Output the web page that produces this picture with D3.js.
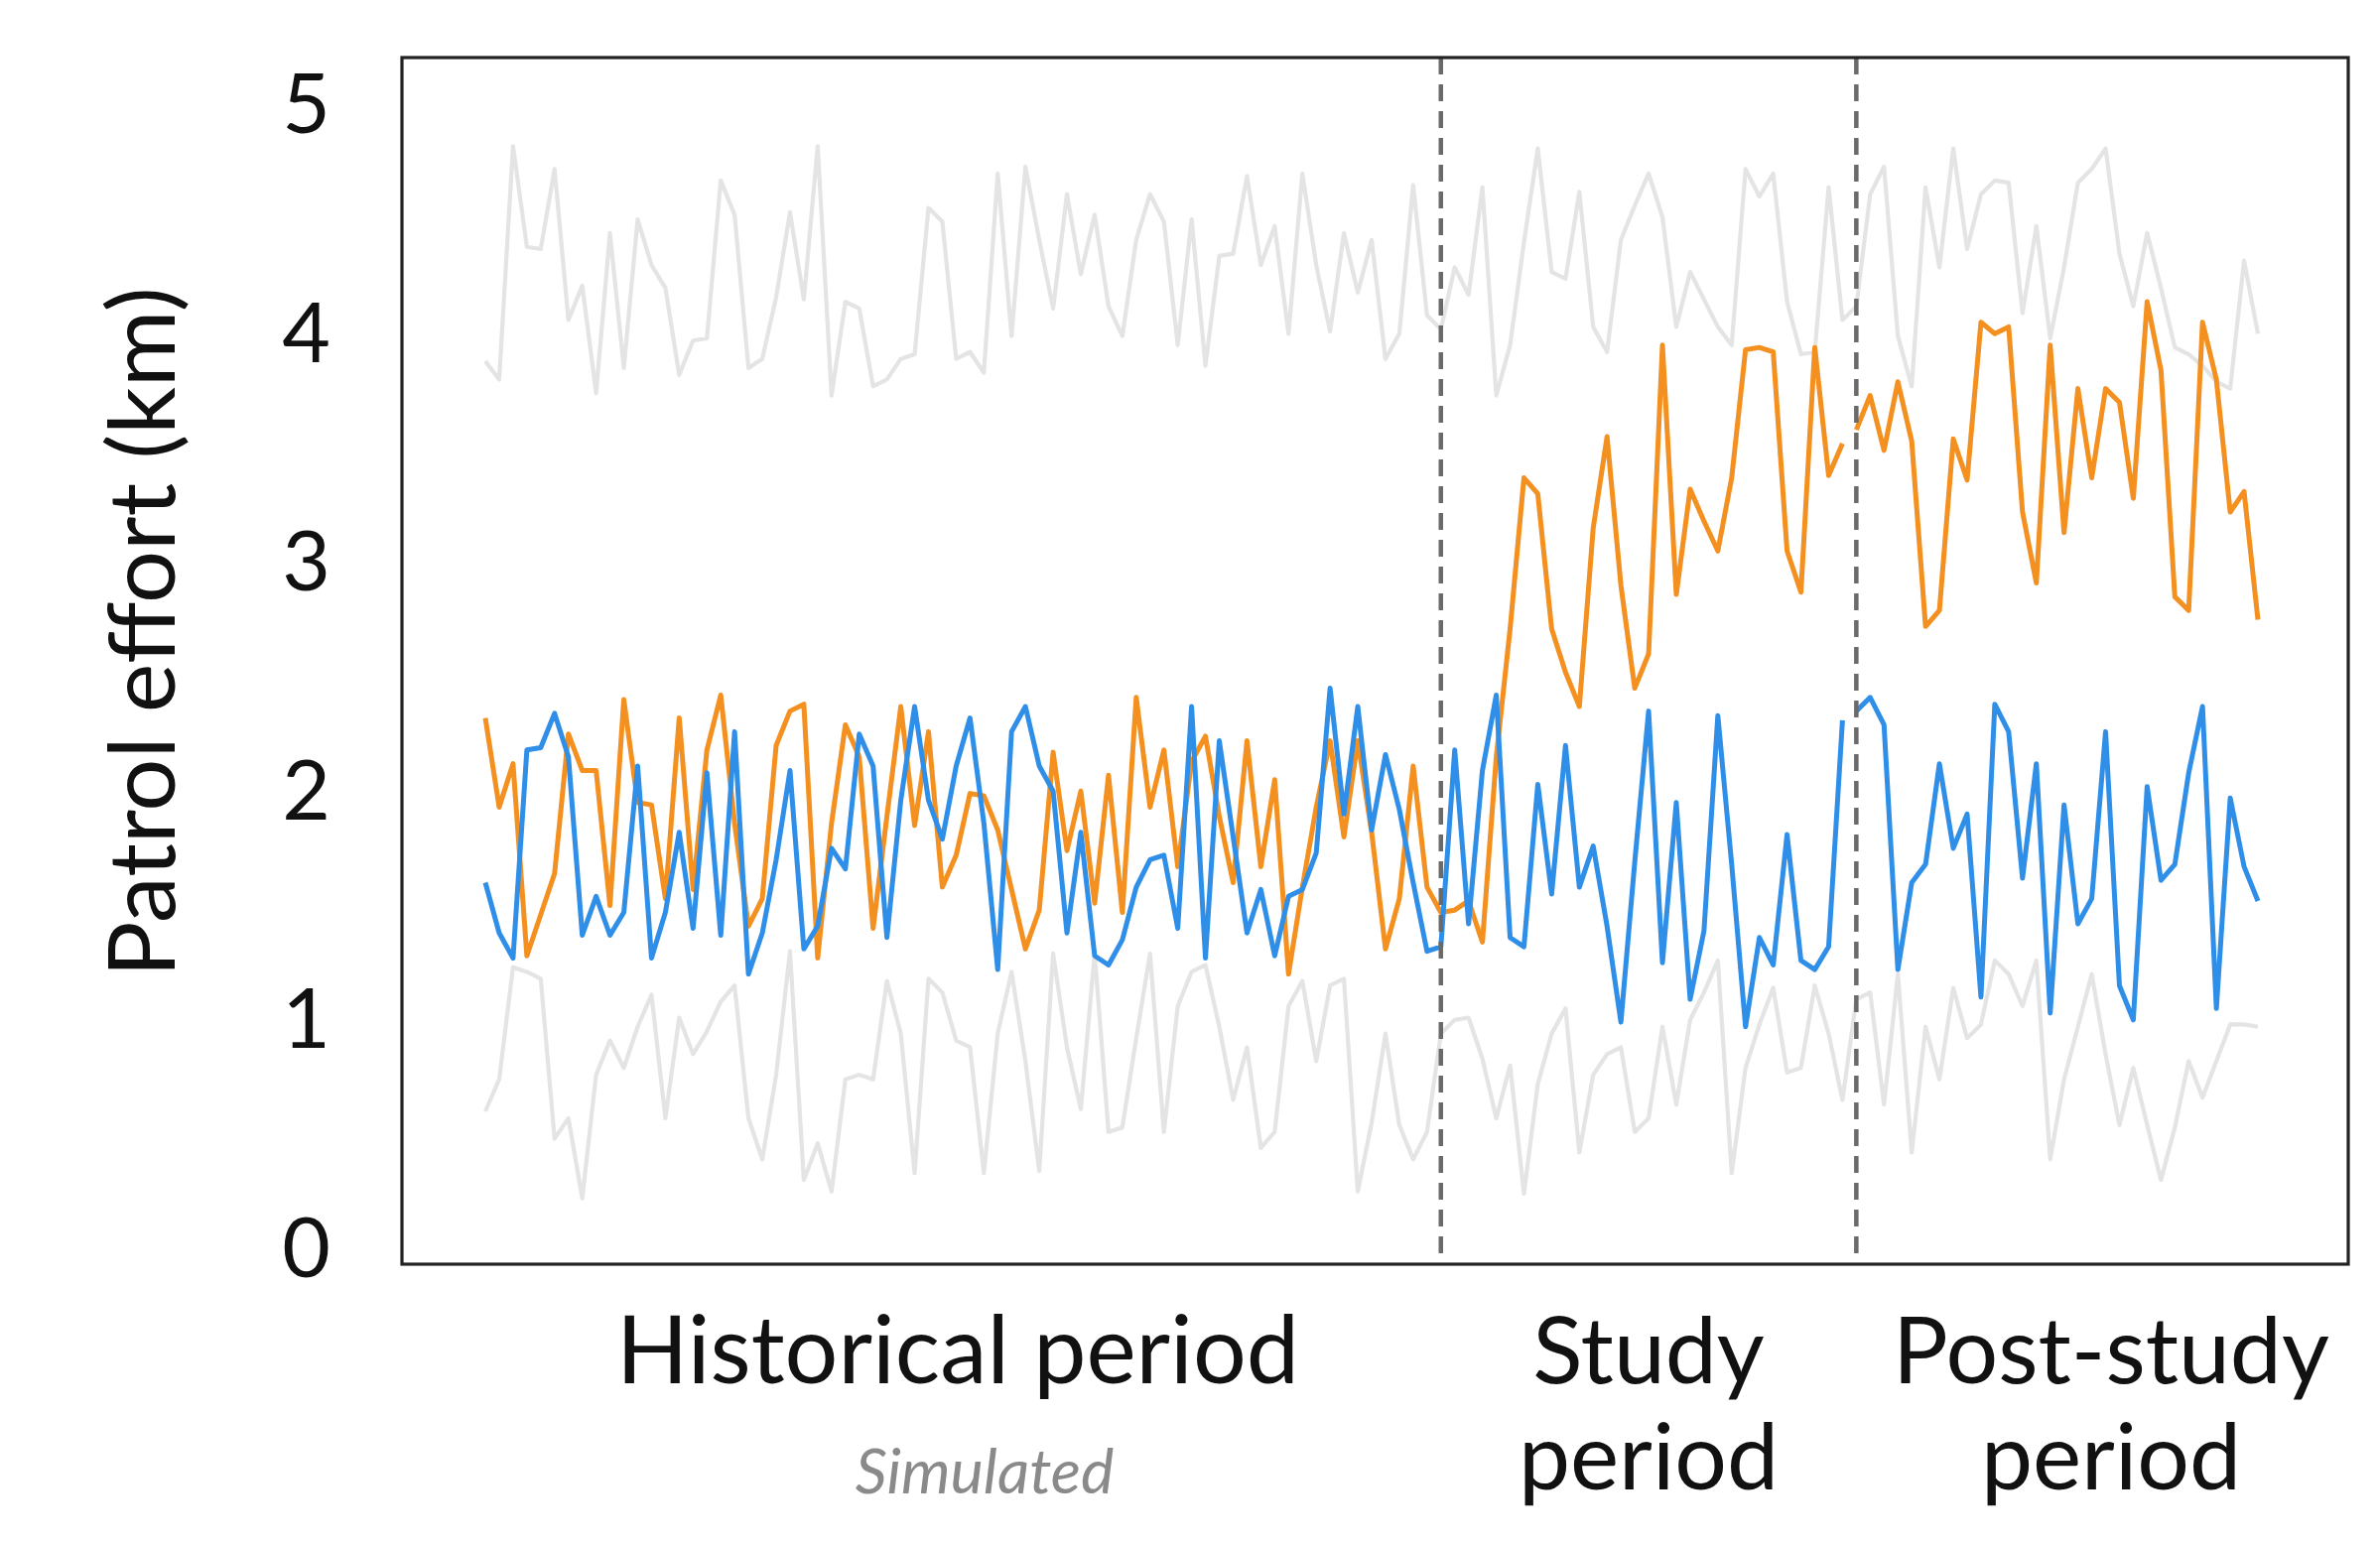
<!DOCTYPE html>
<html><head><meta charset="utf-8">
<script src="https://cdn.jsdelivr.net/npm/d3@7"></script>
<style>html,body{margin:0;padding:0;background:#fff;} svg{display:block}</style>
</head><body>
<svg id="chart" width="2398" height="1555"></svg>
<script>
// ---------- data ----------
const orangeValues = [2.31,1.92,2.11,1.27,1.45,1.63,2.24,2.08,2.08,1.49,2.39,1.94,1.93,1.52,2.31,1.56,2.17,2.41,1.85,1.40,
1.52,2.19,2.34,2.37,1.26,1.85,2.28,2.14,1.39,1.88,2.36,1.84,2.25,1.57,1.71,1.98,1.97,1.82,1.56,1.30,
1.47,2.16,1.73,1.99,1.50,2.06,1.46,2.40,1.92,2.17,1.66,2.12,2.23,1.88,1.59,2.21,1.66,2.04,1.19,1.57,
1.92,2.21,1.79,2.21,1.81,1.30,1.52,2.10,1.57,1.46,1.47,1.51,1.33,2.14,2.70,3.36,3.29,2.70,2.51,2.36,
3.14,3.54,2.89,2.44,2.59,3.94,2.85,3.31,3.17,3.04,3.36,3.92,3.93,3.91,3.04,2.86,3.93,3.37,3.51,
3.57,3.72,3.48,3.78,3.52,2.71,2.78,3.53,3.35,4.04,3.99,4.02,3.21,2.90,3.94,3.12,3.75,3.36,3.75,3.69,
3.27,4.13,3.83,2.84,2.78,4.04,3.79,3.21,3.30,2.74];

const blueValues = [1.59,1.37,1.26,2.17,2.18,2.33,2.14,1.36,1.53,1.36,1.46,2.10,1.26,1.46,1.81,1.39,2.07,1.36,2.25,1.19,
1.37,1.69,2.08,1.30,1.40,1.74,1.65,2.24,2.10,1.35,1.95,2.36,1.95,1.78,2.10,2.31,1.85,1.21,2.25,2.36,
2.10,1.99,1.37,1.81,1.27,1.23,1.34,1.57,1.69,1.71,1.39,2.36,1.26,2.21,1.79,1.37,1.56,1.27,1.53,1.56,
1.72,2.44,1.89,2.36,1.82,2.15,1.91,1.59,1.29,1.31,2.17,1.41,2.08,2.41,1.35,1.31,2.02,1.54,2.19,1.57,
1.75,1.40,0.98,1.68,2.34,1.24,1.94,1.08,1.38,2.32,1.67,0.96,1.35,1.23,1.80,1.25,1.21,1.31,2.30,
2.34,2.40,2.28,1.21,1.59,1.67,2.11,1.74,1.89,1.09,2.37,2.25,1.61,2.11,1.02,1.93,1.41,1.52,2.25,1.14,
0.99,2.01,1.60,1.67,2.07,2.36,1.04,1.96,1.66,1.51];

const grayUpperValues = [3.87,3.79,4.81,4.37,4.36,4.71,4.05,4.20,3.73,4.43,3.84,4.49,4.29,4.19,3.81,3.96,3.97,4.66,4.51,3.84,
3.88,4.15,4.52,4.14,4.81,3.72,4.13,4.10,3.76,3.79,3.88,3.90,4.54,4.48,3.88,3.91,3.82,4.69,3.98,4.72,
4.40,4.10,4.60,4.25,4.51,4.11,3.98,4.40,4.60,4.48,3.94,4.49,3.85,4.33,4.34,4.68,4.29,4.46,3.99,4.69,
4.29,4.00,4.43,4.17,4.40,3.88,3.99,4.64,4.07,4.01,4.28,4.16,4.63,3.72,3.94,4.39,4.80,4.26,4.23,4.61,
4.02,3.91,4.40,4.55,4.69,4.50,4.02,4.26,4.14,4.02,3.94,4.71,4.59,4.69,4.13,3.90,3.91,4.63,4.05,
4.11,4.60,4.72,3.98,3.76,4.63,4.28,4.80,4.36,4.60,4.66,4.65,4.08,4.46,3.97,4.28,4.65,4.71,4.80,4.34,
4.11,4.43,4.19,3.93,3.90,3.85,3.78,3.75,4.31,3.99];

const grayLowerValues = [0.59,0.73,1.22,1.20,1.17,0.47,0.56,0.21,0.75,0.90,0.78,0.96,1.10,0.56,1.00,0.84,0.94,1.07,1.14,0.56,
0.38,0.75,1.29,0.29,0.45,0.24,0.73,0.75,0.73,1.16,0.93,0.32,1.17,1.11,0.90,0.87,0.32,0.93,1.20,0.81,
0.33,1.28,0.87,0.60,1.28,0.50,0.52,0.91,1.28,0.50,1.05,1.20,1.23,0.96,0.64,0.87,0.43,0.50,1.05,1.16,
0.81,1.14,1.17,0.24,0.54,0.93,0.53,0.38,0.50,0.93,0.99,1.00,0.82,0.56,0.79,0.23,0.71,0.93,1.04,0.41,
0.75,0.84,0.87,0.50,0.56,0.96,0.62,0.99,1.11,1.25,0.32,0.78,0.97,1.13,0.76,0.78,1.14,0.93,0.64,
1.08,1.11,0.62,1.19,0.41,0.96,0.73,1.13,0.91,0.97,1.25,1.19,1.05,1.25,0.38,0.73,0.96,1.19,0.84,0.53,
0.78,0.53,0.29,0.52,0.81,0.65,0.81,0.97,0.97,0.96];

const periodStarts = [0, 69, 99];          // first index of each period
const periodLabels = [["Historical period"], ["Study", "period"], ["Post-study", "period"]];
const periodSubLabels = ["Simulated", "", ""];
const tickValues = [0, 1, 2, 3, 4, 5];
const yTitle = "Patrol effort (km)";

// ---------- layout ----------
const svg = d3.select("#chart");
const frame = {left: 405, right: 2366, top: 58, bottom: 1274};
const n = orangeValues.length;
const x = d3.scaleLinear().domain([0, n - 1]).range([489, 2275]);
const y = d3.scaleLinear().domain([0, 5]).range([1256, 103.5]);
const FONT = "Lato, 'Noto Sans', sans-serif";

const line = d3.line().x(d => x(d[0])).y(d => y(d[1]));
const pts = (arr, a, b) => d3.range(a, b).map(i => [i, arr[i]]);

// gray envelopes
[grayUpperValues, grayLowerValues].forEach(arr => {
  svg.append("path").attr("d", line(pts(arr, 0, n)))
    .attr("fill", "none").attr("stroke", "#e4e4e4").attr("stroke-width", 4.2)
    .attr("stroke-linejoin", "round");
});

// coloured series: gap between study and post-study
const segs = [[0, periodStarts[2]], [periodStarts[2], n]];
[[orangeValues, "#f39020"], [blueValues, "#2f8fe8"]].forEach(([arr, col]) => {
  segs.forEach(([a, b]) => {
    svg.append("path").attr("d", line(pts(arr, a, b)))
      .attr("fill", "none").attr("stroke", col).attr("stroke-width", 5)
      .attr("stroke-linejoin", "round");
  });
});

// dashed separators
periodStarts.slice(1).forEach(s => {
  svg.append("line").attr("x1", x(s)).attr("x2", x(s))
    .attr("y1", frame.top).attr("y2", frame.bottom)
    .attr("stroke", "#6a6a6a").attr("stroke-width", 4.5)
    .attr("stroke-dasharray", "17,10");
});

// frame
svg.append("rect").attr("x", frame.left).attr("y", frame.top)
  .attr("width", frame.right - frame.left).attr("height", frame.bottom - frame.top)
  .attr("fill", "none").attr("stroke", "#222").attr("stroke-width", 3.2);

// y axis labels
const yAxis = d3.axisLeft(y).tickValues(tickValues).tickSize(0).tickPadding(72).tickFormat(d3.format("d"));
const ga = svg.append("g").attr("transform", `translate(${frame.left},0)`).call(yAxis);
ga.select(".domain").remove();
ga.selectAll("text").attr("font-family", FONT).attr("font-size", 84).attr("fill", "#111").attr("dy", "0.36em");

// y title
svg.append("text").attr("transform", "translate(176,637) rotate(-90)")
  .attr("text-anchor", "middle").attr("font-family", FONT).attr("font-size", 94).attr("fill", "#111")
  .text(yTitle);

// period labels
const labelCx = [965, 1661, 2127];
periodLabels.forEach((lines, k) => {
  lines.forEach((t, j) => {
    svg.append("text").attr("x", labelCx[k]).attr("y", 1394 + j * 107)
      .attr("text-anchor", "middle").attr("font-family", FONT).attr("font-size", k === 0 ? 95 : 93)
      .attr("fill", "#111").text(t);
  });
  if (periodSubLabels[k]) {
    svg.append("text").attr("x", 992).attr("y", 1505)
      .attr("text-anchor", "middle").attr("font-family", FONT).attr("font-size", 63)
      .attr("font-style", "italic").attr("fill", "#8a8a8a").text(periodSubLabels[k]);
  }
});
</script>
</body></html>
